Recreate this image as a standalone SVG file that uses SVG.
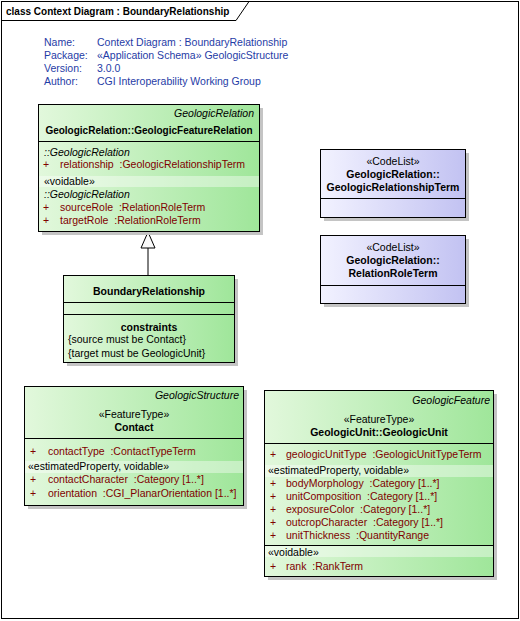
<svg xmlns="http://www.w3.org/2000/svg" width="520" height="621" viewBox="0 0 520 621">
<defs>
<linearGradient id="green" x1="0" y1="0" x2="1" y2="0">
<stop offset="0" stop-color="#e2f8dc"/>
<stop offset="1" stop-color="#9fe69a"/>
</linearGradient>
<linearGradient id="blue" x1="0" y1="0" x2="1" y2="0">
<stop offset="0" stop-color="#f2f2ff"/>
<stop offset="1" stop-color="#c2c2f2"/>
</linearGradient>
<style>
text{font-family:"Liberation Sans",Arial,sans-serif;font-size:10.5px;fill:#000;white-space:pre}
.b{font-weight:bold}
.s{font-size:10px}
.i{font-style:italic}
.m{text-anchor:middle}
.e{text-anchor:end}
.a{fill:#800000}
.info{fill:#1f3ca6}
.shadow{fill:#c4c4c4}
.box{stroke:#000;stroke-width:1}
.g{fill:url(#green)}
.bl{fill:url(#blue)}
.sep{stroke:#000;stroke-width:1}
.band{fill:#ffffff;fill-opacity:0.4}
</style>
</defs>
<rect x="0" y="0" width="520" height="621" fill="#ffffff"/>
<g id="frame">
<rect x="1.5" y="1.5" width="517" height="617" fill="none" stroke="#000"/>
<path d="M1.5,20.5 H236 L249,1.5" fill="none" stroke="#000"/>
<text x="6" y="15" class="b s">class Context Diagram : BoundaryRelationship</text>
</g>
<g id="info">
<text x="44" y="46" class="info">Name:</text>
<text x="97" y="46" class="info">Context Diagram : BoundaryRelationship</text>
<text x="44" y="59" class="info">Package:</text>
<text x="97" y="59" class="info">«Application Schema» GeologicStructure</text>
<text x="44" y="72" class="info">Version:</text>
<text x="97" y="72" class="info">3.0.0</text>
<text x="44" y="85" class="info">Author:</text>
<text x="97" y="85" class="info">CGI Interoperability Working Group</text>
</g>
<g id="connectors">
<line x1="148" y1="248" x2="148" y2="275.5" stroke="#000"/>
<polygon points="148,232 141,248 155,248" fill="#fafafa" stroke="#000"/>
</g>
<g id="GeologicFeatureRelation">
<rect x="42" y="108" width="221" height="127" class="shadow"/>
<rect x="38.5" y="104.5" width="221" height="127" class="g box"/>
<rect x="39" y="176" width="220" height="11" class="band"/>
<text x="254" y="117" class="i e">GeologicRelation</text>
<text x="149" y="134" class="b m s">GeologicRelation::GeologicFeatureRelation</text>
<line x1="38.5" y1="141.5" x2="259.5" y2="141.5" class="sep"/>
<text x="44" y="156" class="i">::GeologicRelation</text>
<text x="43" y="168" class="a">+</text>
<text x="60" y="168" class="a">relationship  :GeologicRelationshipTerm</text>
<text x="44" y="185">«voidable»</text>
<text x="44" y="198" class="i">::GeologicRelation</text>
<text x="43" y="211" class="a">+</text>
<text x="60" y="211" class="a">sourceRole  :RelationRoleTerm</text>
<text x="43" y="224" class="a">+</text>
<text x="60" y="224" class="a">targetRole  :RelationRoleTerm</text>
</g>
<g id="BoundaryRelationship">
<rect x="67" y="279" width="171" height="87" class="shadow"/>
<rect x="63.5" y="275.5" width="171" height="87" class="g box"/>
<text x="149" y="295" class="b m">BoundaryRelationship</text>
<line x1="63.5" y1="302.5" x2="234.5" y2="302.5" class="sep"/>
<line x1="63.5" y1="314.5" x2="234.5" y2="314.5" class="sep"/>
<text x="149" y="331" class="b m">constraints</text>
<text x="68" y="343">{source must be Contact}</text>
<text x="68" y="357">{target must be GeologicUnit}</text>
</g>
<g id="GeologicRelationshipTerm">
<rect x="324" y="153" width="145" height="68" class="shadow"/>
<rect x="320.5" y="149.5" width="145" height="68" class="bl box"/>
<text x="393" y="165" class="m">«CodeList»</text>
<text x="393" y="178" class="b m">GeologicRelation::</text>
<text x="393" y="191" class="b m">GeologicRelationshipTerm</text>
<line x1="320.5" y1="198.5" x2="465.5" y2="198.5" class="sep"/>
</g>
<g id="RelationRoleTerm">
<rect x="324" y="239" width="145" height="68" class="shadow"/>
<rect x="320.5" y="235.5" width="145" height="68" class="bl box"/>
<text x="393" y="251" class="m">«CodeList»</text>
<text x="393" y="264" class="b m">GeologicRelation::</text>
<text x="393" y="277" class="b m">RelationRoleTerm</text>
<line x1="320.5" y1="285.5" x2="465.5" y2="285.5" class="sep"/>
</g>
<g id="Contact">
<rect x="28" y="390" width="219" height="119" class="shadow"/>
<rect x="24.5" y="386.5" width="219" height="119" class="g box"/>
<rect x="25" y="461" width="218" height="12" class="band"/>
<text x="239" y="399" class="i e">GeologicStructure</text>
<text x="134" y="418" class="m">«FeatureType»</text>
<text x="134" y="431" class="b m">Contact</text>
<line x1="24.5" y1="438.5" x2="243.5" y2="438.5" class="sep"/>
<text x="30" y="455" class="a">+</text>
<text x="48" y="455" class="a">contactType  :ContactTypeTerm</text>
<text x="28" y="470">«estimatedProperty, voidable»</text>
<text x="30" y="483" class="a">+</text>
<text x="48" y="483" class="a">contactCharacter  :Category [1..*]</text>
<text x="30" y="497" class="a">+</text>
<text x="48" y="497" class="a">orientation  :CGI_PlanarOrientation [1..*]</text>
</g>
<g id="GeologicUnit">
<rect x="268" y="394" width="229" height="186" class="shadow"/>
<rect x="264.5" y="390.5" width="229" height="186" class="g box"/>
<rect x="265" y="465" width="228" height="12" class="band"/>
<rect x="265" y="546" width="228" height="11" class="band"/>
<text x="490" y="404" class="i e">GeologicFeature</text>
<text x="379" y="423" class="m">«FeatureType»</text>
<text x="379" y="436" class="b m">GeologicUnit::GeologicUnit</text>
<line x1="264.5" y1="443.5" x2="493.5" y2="443.5" class="sep"/>
<text x="270" y="458" class="a">+</text>
<text x="286" y="458" class="a">geologicUnitType  :GeologicUnitTypeTerm</text>
<text x="268" y="474">«estimatedProperty, voidable»</text>
<text x="270" y="487" class="a">+</text>
<text x="286" y="487" class="a">bodyMorphology  :Category [1..*]</text>
<text x="270" y="500" class="a">+</text>
<text x="286" y="500" class="a">unitComposition  :Category [1..*]</text>
<text x="270" y="513" class="a">+</text>
<text x="286" y="513" class="a">exposureColor  :Category [1..*]</text>
<text x="270" y="526" class="a">+</text>
<text x="286" y="526" class="a">outcropCharacter  :Category [1..*]</text>
<text x="270" y="539" class="a">+</text>
<text x="286" y="539" class="a">unitThickness  :QuantityRange</text>
<line x1="264.5" y1="545.5" x2="493.5" y2="545.5" class="sep"/>
<text x="268" y="556">«voidable»</text>
<text x="270" y="570" class="a">+</text>
<text x="286" y="570" class="a">rank  :RankTerm</text>
</g>
</svg>
